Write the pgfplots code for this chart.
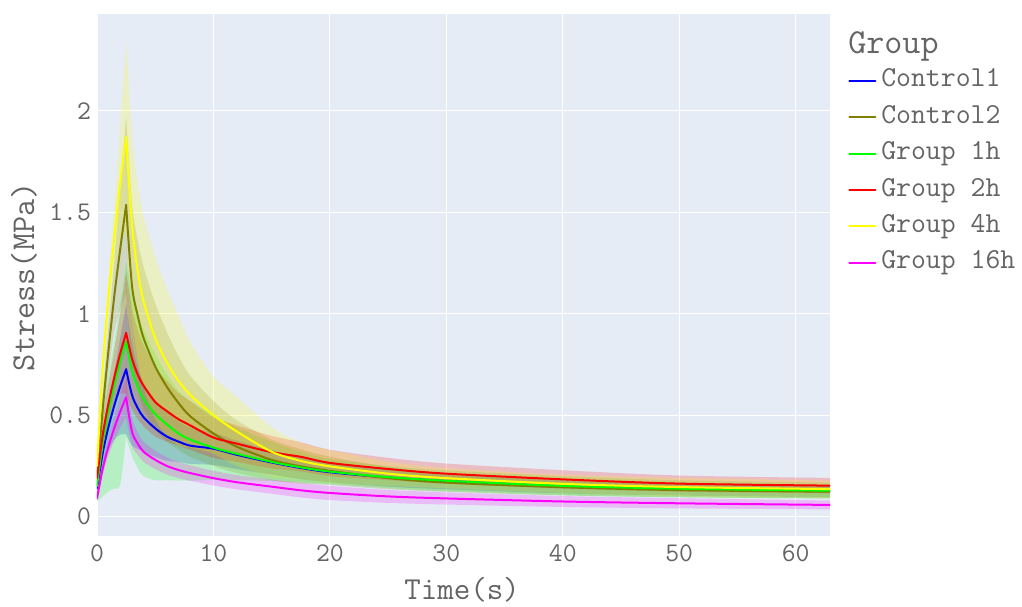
\documentclass[border=0pt]{standalone}
\usepackage{pgfplots}
\pgfplotsset{compat=1.18}
\usepgfplotslibrary{fillbetween}
\usepackage{pgfplotstable}
\usepackage{fontspec}
\definecolor{bgc}{RGB}{229,236,246}
\definecolor{txt}{RGB}{100,100,100}
\definecolor{cblue}{RGB}{0,0,255}
\definecolor{colive}{RGB}{128,128,0}
\definecolor{clime}{RGB}{0,255,0}
\definecolor{cred}{RGB}{255,0,0}
\definecolor{cyellow}{RGB}{255,255,0}
\definecolor{cmag}{RGB}{255,0,255}

\pgfplotstableread{
t c1m c1s c2m c2s g1m g1lo g1hi g2m g2s g4m g4s g16m g16s
0 0.14 0.04 0.20 0.04 0.15 0.075 0.22 0.19 0.04 0.25 0.04 0.09 0.015
0.5 0.316 0.08 0.534 0.08 0.364 0.10 0.50 0.405 0.07 0.736 0.07 0.239 0.03
1 0.445 0.12 0.827 0.12 0.52 0.125 0.70 0.562 0.10 1.092 0.11 0.349 0.045
1.5 0.55 0.17 1.094 0.18 0.648 0.14 0.88 0.69 0.14 1.384 0.17 0.439 0.06
2 0.644 0.24 1.321 0.30 0.762 0.16 1.05 0.805 0.20 1.643 0.30 0.518 0.08
2.5 0.726 0.32 1.535 0.435 0.862 0.394 1.25 0.905 0.30 1.87 0.47 0.588 0.10
}\rise

\pgfplotstableread{
t c1m c1s c2m c2s g1m g1lo g1hi g2m g2s g4m g4s g16m g16s
2.5 0.726 0.32 1.535 0.435 0.862 0.394 1.25 0.905 0.30 1.87 0.47 0.588 0.10
3 0.60 0.25 1.14 0.40 0.72 0.30 1.10 0.78 0.25 1.44 0.45 0.42 0.07
3.5 0.535 0.20 0.99 0.37 0.64 0.24 1.00 0.70 0.22 1.21 0.43 0.36 0.055
4 0.49 0.17 0.88 0.35 0.58 0.20 0.92 0.645 0.20 1.06 0.42 0.32 0.05
5 0.435 0.14 0.74 0.31 0.505 0.18 0.80 0.565 0.17 0.88 0.40 0.28 0.045
6 0.395 0.12 0.64 0.27 0.455 0.18 0.70 0.52 0.15 0.76 0.36 0.25 0.042
7 0.37 0.10 0.56 0.23 0.41 0.178 0.62 0.48 0.13 0.67 0.32 0.23 0.04
8 0.35 0.09 0.495 0.20 0.38 0.178 0.57 0.45 0.12 0.60 0.26 0.215 0.038
10 0.335 0.08 0.41 0.16 0.34 0.18 0.50 0.39 0.10 0.50 0.19 0.19 0.036
12 0.305 0.07 0.345 0.13 0.31 0.18 0.44 0.36 0.09 0.42 0.17 0.17 0.035
15 0.267 0.06 0.28 0.10 0.27 0.175 0.37 0.318 0.08 0.32 0.12 0.148 0.035
17.5 0.24 0.055 0.248 0.085 0.243 0.168 0.32 0.295 0.072 0.275 0.09 0.13 0.035
20 0.219 0.05 0.226 0.07 0.222 0.16 0.285 0.265 0.065 0.248 0.08 0.117 0.035
25 0.193 0.045 0.19 0.055 0.195 0.14 0.25 0.235 0.055 0.212 0.06 0.10 0.032
30 0.175 0.04 0.168 0.045 0.177 0.125 0.228 0.212 0.05 0.19 0.05 0.09 0.03
40 0.15 0.035 0.145 0.04 0.152 0.105 0.20 0.184 0.045 0.162 0.045 0.075 0.027
50 0.136 0.032 0.131 0.035 0.138 0.095 0.18 0.163 0.04 0.146 0.045 0.066 0.025
63 0.126 0.03 0.123 0.033 0.128 0.09 0.168 0.153 0.038 0.136 0.042 0.058 0.022
}\decay

% band: #1 table, #2 lower expr, #3 upper expr, #4 colour, #5 id
\newcommand{\band}[5]{%
  \addplot[draw=none, forget plot, smooth, name path=u#5] table[x=t, y expr={#3}]{#1};
  \addplot[draw=none, forget plot, smooth, name path=l#5] table[x=t, y expr={#2}]{#1};
  \addplot[fill=#4, fill opacity=0.2, draw=none, forget plot] fill between[of=u#5 and l#5];
}
\newcommand{\stdband}[5]{\band{#1}{\thisrow{#2}-\thisrow{#3}}{\thisrow{#2}+\thisrow{#3}}{#4}{#5}}

\begin{document}
\begin{tikzpicture}
\begin{axis}[
  at={(0,0)}, anchor=south west,
  width=549.75pt, height=391.5pt, scale only axis,
  xmin=0, xmax=62.95, ymin=-0.095, ymax=2.476,
  clip mode=individual,
  axis background/.style={fill=bgc},
  axis line style={draw=none},
  grid=major, major grid style={white, line width=0.9pt},
  major tick length=0pt, tick style={draw=none},
  xtick={0,10,20,30,40,50,60}, xticklabels={0,10,20,30,40,50,60},
  ytick={0,0.5,1,1.5,2}, yticklabels={0,0.5,1,1.5,2},
  ticklabel style={font=\ttfamily\fontsize{20.2}{22}\selectfont, text=txt},
  xticklabel style={yshift=-3pt},
  yticklabel style={xshift=-1pt},
  xlabel={Time(s)}, ylabel={Stress(MPa)},
  label style={font=\ttfamily\fontsize{25}{27}\selectfont, text=txt},
  xlabel style={at={(axis description cs:0.498,-0.103)}, anchor=center, font=\ttfamily\fontsize{24}{26}\selectfont},
  ylabel style={at={(axis description cs:-0.0996,0.4967)}, anchor=center},
  legend style={at={(axis description cs:1.0191,0.8993)}, anchor=north west, draw=none, fill=none,
    font=\ttfamily\fontsize{21.7}{23}\selectfont, text=txt, row sep=10.3pt, column sep=3.75pt,
    nodes={inner sep=0pt, text height=13pt, text depth=4pt}},
  legend cell align=left,
  legend image code/.code={\draw[#1, line width=1.5pt] (0pt,0pt) -- (19.5pt,0pt);},
]
% bands
\stdband{\rise}{c1m}{c1s}{cblue}{ra}
\stdband{\decay}{c1m}{c1s}{cblue}{da}
\stdband{\rise}{c2m}{c2s}{colive}{rb}
\stdband{\decay}{c2m}{c2s}{colive}{db}
\band{\rise}{\thisrow{g1lo}}{\thisrow{g1hi}}{clime}{rc}
\band{\decay}{\thisrow{g1lo}}{\thisrow{g1hi}}{clime}{dc}
\stdband{\rise}{g2m}{g2s}{cred}{rd}
\stdband{\decay}{g2m}{g2s}{cred}{dd}
\stdband{\rise}{g4m}{g4s}{cyellow}{re}
\stdband{\decay}{g4m}{g4s}{cyellow}{de}
\stdband{\rise}{g16m}{g16s}{cmag}{rf}
\stdband{\decay}{g16m}{g16s}{cmag}{df}
% lines
\addplot[cblue, line width=1.5pt, line cap=round, smooth, forget plot] table[x=t,y=c1m]{\rise};
\addplot[cblue, line width=1.5pt, line cap=round, smooth] table[x=t,y=c1m]{\decay};
\addlegendentry{Control1}
\addplot[colive, line width=1.5pt, line cap=round, smooth, forget plot] table[x=t,y=c2m]{\rise};
\addplot[colive, line width=1.5pt, line cap=round, smooth] table[x=t,y=c2m]{\decay};
\addlegendentry{Control2}
\addplot[clime, line width=1.5pt, line cap=round, smooth, forget plot] table[x=t,y=g1m]{\rise};
\addplot[clime, line width=1.5pt, line cap=round, smooth] table[x=t,y=g1m]{\decay};
\addlegendentry{Group 1h}
\addplot[cred, line width=1.5pt, line cap=round, smooth, forget plot] table[x=t,y=g2m]{\rise};
\addplot[cred, line width=1.5pt, line cap=round, smooth] table[x=t,y=g2m]{\decay};
\addlegendentry{Group 2h}
\addplot[cyellow, line width=1.5pt, line cap=round, smooth, forget plot] table[x=t,y=g4m]{\rise};
\addplot[cyellow, line width=1.5pt, line cap=round, smooth] table[x=t,y=g4m]{\decay};
\addlegendentry{Group 4h}
\addplot[cmag, line width=1.5pt, line cap=round, smooth, forget plot] table[x=t,y=g16m]{\rise};
\addplot[cmag, line width=1.5pt, line cap=round, smooth] table[x=t,y=g16m]{\decay};
\addlegendentry{Group 16h}
\node[anchor=base west, inner sep=0pt, font=\ttfamily\fontsize{26.3}{28}\selectfont, text=txt] at (axis description cs:1.0246,0.9247) {Group};
\end{axis}
\pgfresetboundingbox
\useasboundingbox (-72.75pt,-53.25pt) rectangle (693.75pt,402pt);
\end{tikzpicture}
\end{document}
